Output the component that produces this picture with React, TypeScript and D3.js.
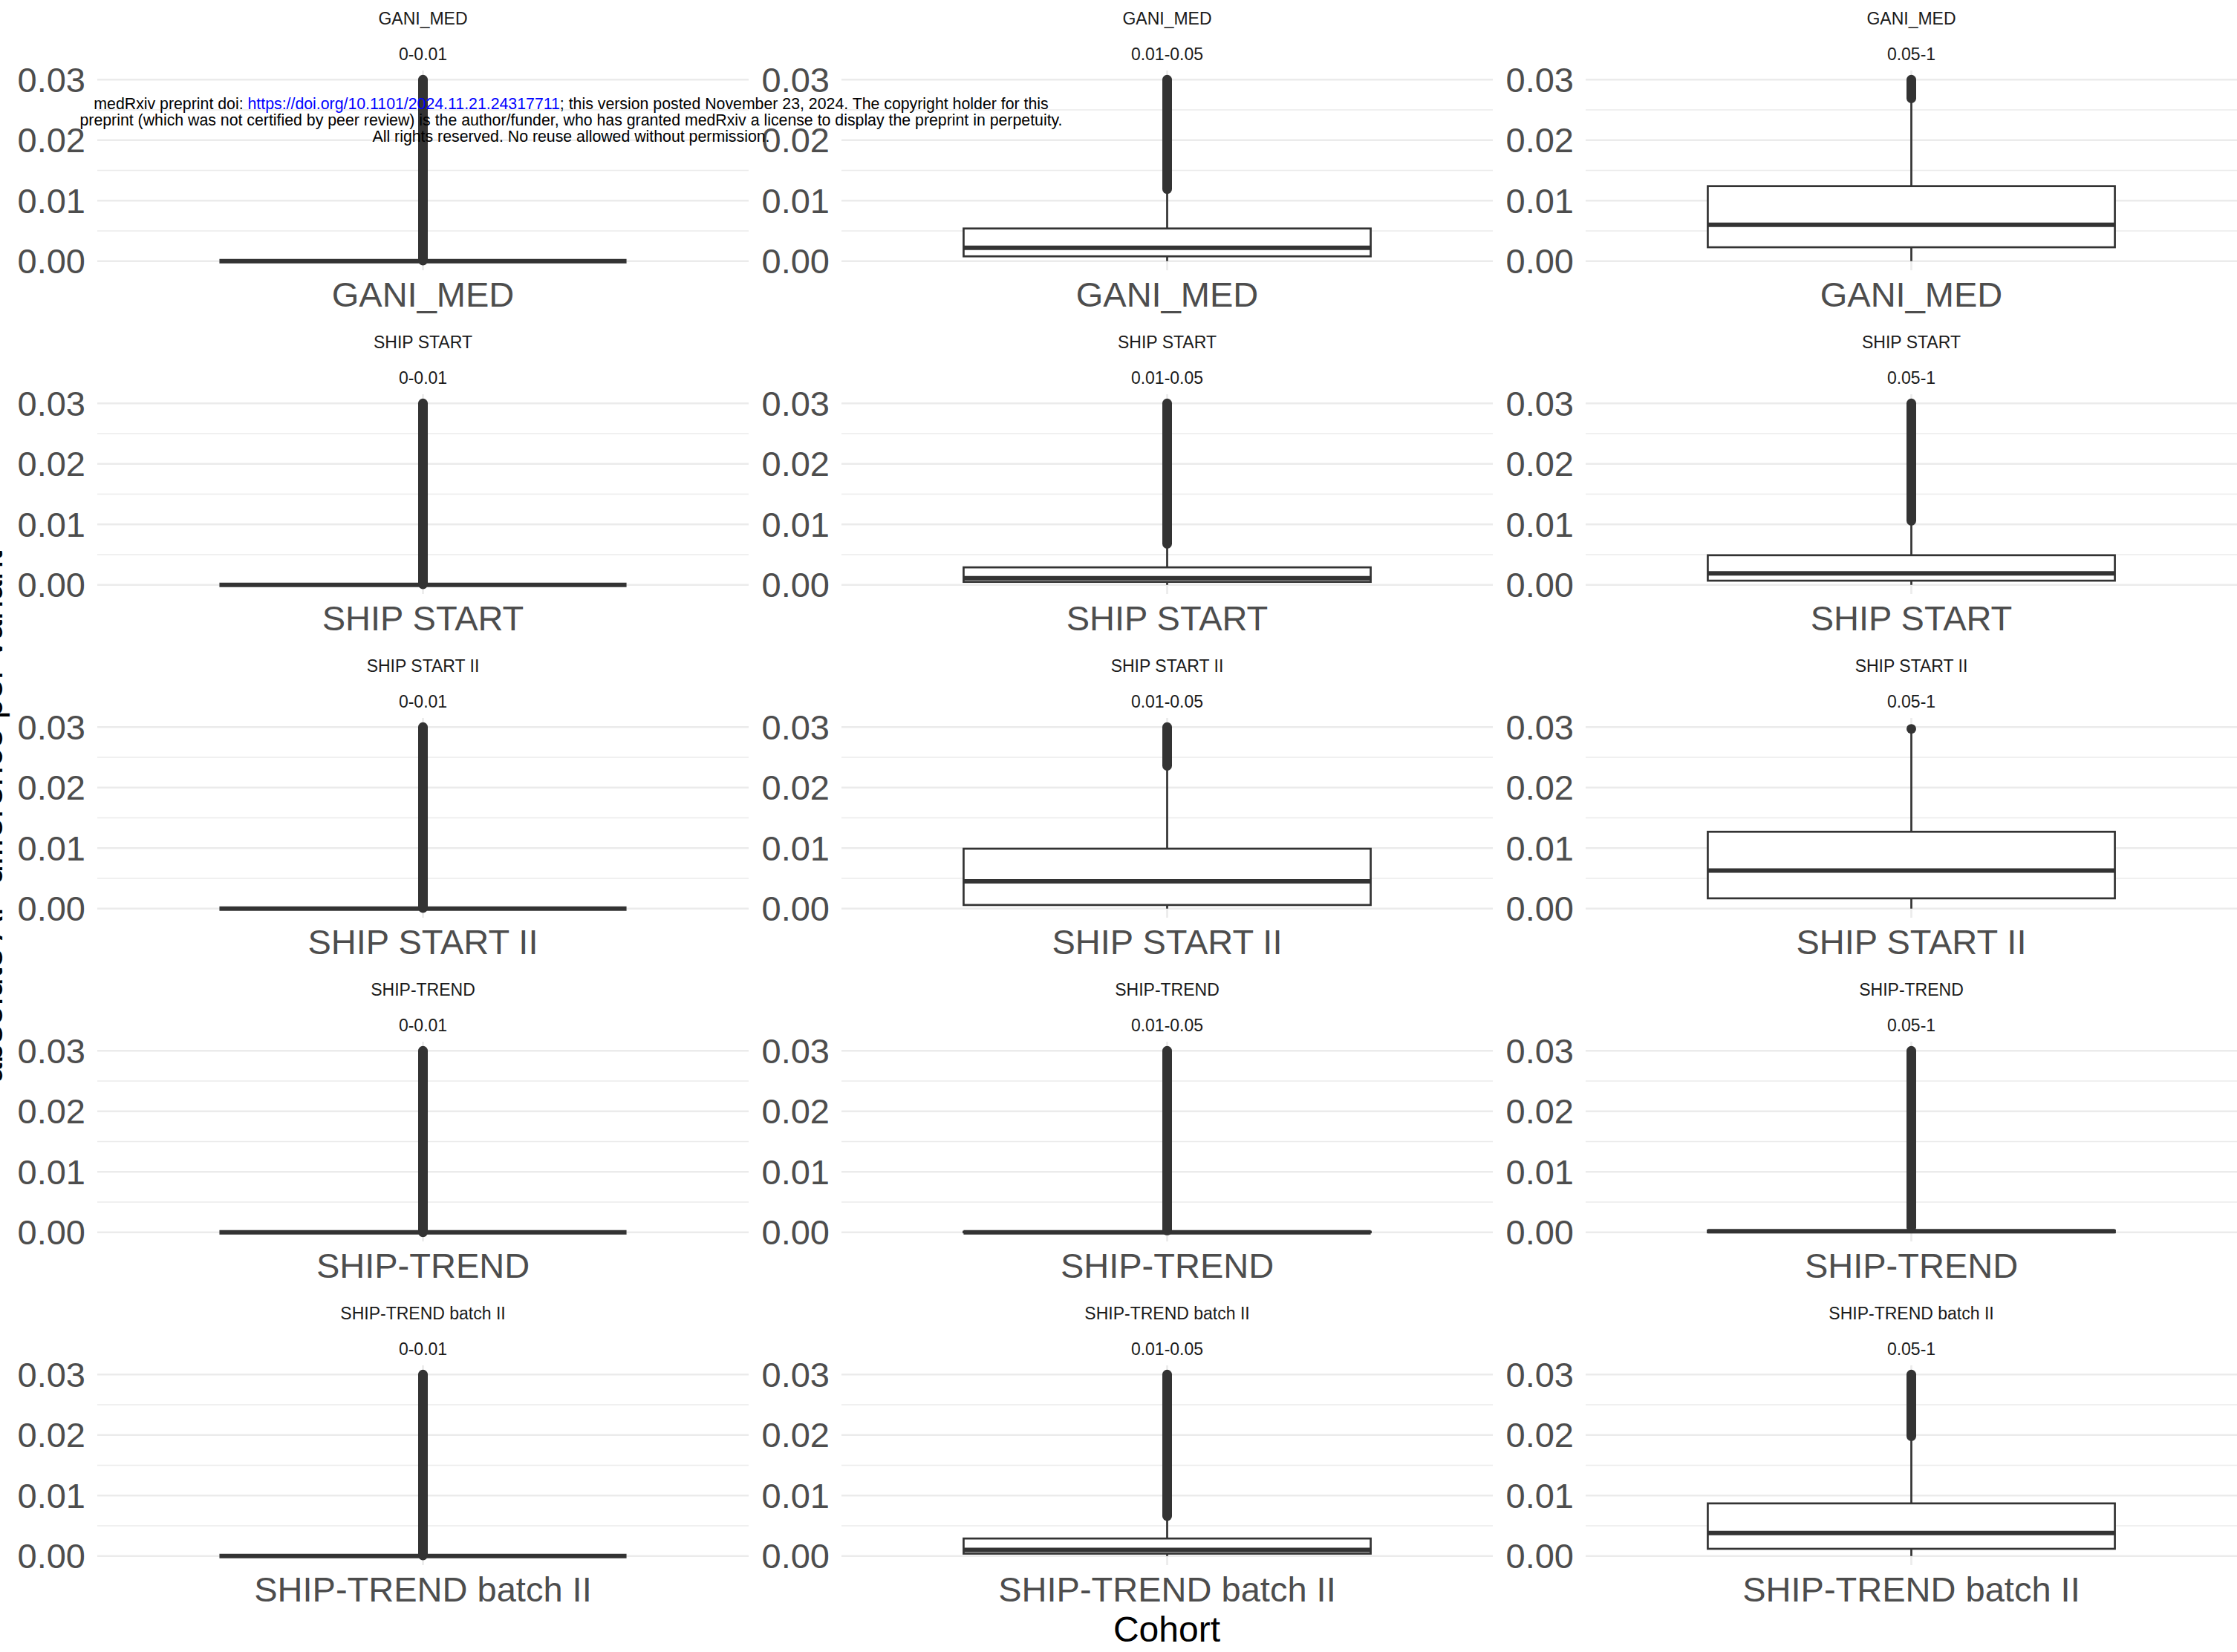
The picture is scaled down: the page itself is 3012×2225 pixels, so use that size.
import React from "react";
import { scaleLinear } from "d3";

// facet rows / columns
const cohorts = ["GANI_MED", "SHIP START", "SHIP START II", "SHIP-TREND", "SHIP-TREND batch II"];
const afBins = ["0-0.01", "0.01-0.05", "0.05-1"];

const yTicks = [0, 0.01, 0.02, 0.03];
const yMinorTicks = [0.005, 0.015, 0.025];
const yTickLabels = ["0.00", "0.01", "0.02", "0.03"];

// box stats per cohort (rows) x AF bin (cols)
const lowerWhisker = [
  [0, 0, 0],
  [0, 0, 0],
  [0, 0, 0],
  [0, 0, 0],
  [0, 0, 0]
];
const q1 = [
  [0, 0.0008, 0.0023],
  [0, 0.0005, 0.0007],
  [0, 0.0006, 0.0017],
  [0, 0, 0],
  [0, 0.0004, 0.0012]
];
const median = [
  [0, 0.0022, 0.006],
  [0, 0.0011, 0.0019],
  [0, 0.0045, 0.0063],
  [0, 0, 0.0002],
  [0, 0.001, 0.0038]
];
const q3 = [
  [0, 0.0054, 0.0124],
  [0, 0.0029, 0.0049],
  [0, 0.0099, 0.0127],
  [0, 0.0001, 0.0003],
  [0, 0.0029, 0.0087]
];
const upperWhisker = [
  [0, 0.0116, 0.0266],
  [0, 0.0066, 0.0104],
  [0, 0.0234, 0.0292],
  [0, 0.0002, 0.0007],
  [0, 0.0064, 0.0196]
];
// outliers are so dense they form a solid column: lowest and highest outlier
const outlierMin = [
  [0.0001, 0.0119, 0.0269],
  [0.0001, 0.0068, 0.0106],
  [0.0001, 0.0236, 0.0297],
  [0, 0.0003, 0.0008],
  [0.0001, 0.0066, 0.0198]
];
const outlierMax = [
  [0.03, 0.03, 0.03],
  [0.03, 0.03, 0.03],
  [0.03, 0.03, 0.0297],
  [0.03, 0.03, 0.03],
  [0.03, 0.03, 0.03]
];

const W = 3012;
const H = 2225;
const colLeft = [131, 1133, 2135];
const panelW = 877;
const rowStep = 436;
const panelTop0 = 95;
const panelH = 269;
const font = "'Liberation Sans', Arial, Helvetica, sans-serif";
const ink = "#333333";
const grid = "#EBEBEB";

function Panel({ r, c }: { r: number; c: number }) {
  const top = panelTop0 + r * rowStep;
  const left = colLeft[c];
  const y = scaleLinear().domain([-0.0015, 0.0315]).range([top + panelH, top]);
  // discrete x axis, one level, ggplot default expansion 0.6
  const x = scaleLinear().domain([0.4, 1.6]).range([left, left + panelW]);
  const cx = x(1);
  const bx0 = x(1 - 0.375);
  const bx1 = x(1 + 0.375);

  return (
    <g>
      {yMinorTicks.map(t => (
        <line key={"m" + t} x1={left} x2={left + panelW} y1={y(t)} y2={y(t)} stroke={grid} strokeWidth={1.4} />
      ))}
      {yTicks.map(t => (
        <line key={"g" + t} x1={left} x2={left + panelW} y1={y(t)} y2={y(t)} stroke={grid} strokeWidth={2.7} />
      ))}
      <line x1={cx} x2={cx} y1={top} y2={top + panelH} stroke={grid} strokeWidth={2.7} />

      {yTicks.map((t, i) => (
        <text key={"t" + t} x={left - 16} y={y(t)} textAnchor="end" dominantBaseline="central"
          fontSize={47} fill="#4D4D4D" fontFamily={font}>{yTickLabels[i]}</text>
      ))}

      {/* whiskers */}
      <line x1={cx} x2={cx} y1={y(q3[r][c])} y2={y(upperWhisker[r][c])} stroke={ink} strokeWidth={2.7} />
      <line x1={cx} x2={cx} y1={y(q1[r][c])} y2={y(lowerWhisker[r][c])} stroke={ink} strokeWidth={2.7} />
      {/* box */}
      <rect x={bx0} width={bx1 - bx0} y={y(q3[r][c])} height={y(q1[r][c]) - y(q3[r][c])}
        fill="#FFFFFF" stroke={ink} strokeWidth={2.7} />
      <line x1={bx0} x2={bx1} y1={y(median[r][c])} y2={y(median[r][c])} stroke={ink} strokeWidth={6} />
      {/* outliers */}
      <line x1={cx} x2={cx} y1={y(outlierMin[r][c])} y2={y(outlierMax[r][c])}
        stroke={ink} strokeWidth={13} strokeLinecap="round" />

      {/* strip */}
      <text x={left + panelW / 2} y={25 + r * rowStep} textAnchor="middle" dominantBaseline="central"
        fontSize={23} fill="#1A1A1A" fontFamily={font}>{cohorts[r]}</text>
      <text x={left + panelW / 2} y={73 + r * rowStep} textAnchor="middle" dominantBaseline="central"
        fontSize={23} fill="#1A1A1A" fontFamily={font}>{afBins[c]}</text>

      {/* x axis label */}
      <text x={cx} y={396 + r * rowStep} textAnchor="middle" dominantBaseline="central"
        fontSize={47} fill="#4D4D4D" fontFamily={font}>{cohorts[r]}</text>
    </g>
  );
}

export default function App() {
  const panels: { r: number; c: number }[] = [];
  cohorts.forEach((_, r) => afBins.forEach((__, c) => panels.push({ r, c })));

  return (
    <svg width={W} height={H} style={{ position: "absolute", left: 0, top: 0, background: "#fff" }}>
      <rect width={W} height={H} fill="#fff" />
      {panels.map(p => (
        <Panel key={p.r + "-" + p.c} r={p.r} c={p.c} />
      ))}

      <text x={1571} y={2194} textAnchor="middle" dominantBaseline="central" fontSize={48} fill="#000"
        fontFamily={font}>Cohort</text>
      <text transform="translate(3,1100) rotate(-90)" textAnchor="middle" fontSize={48} fill="#000"
        fontFamily={font}>absolute AF difference per variant</text>

      {/* medRxiv watermark */}
      <g fontFamily={font} fontSize={21.3} fill="#000" textAnchor="middle">
        <text x={769} y={147}>
          medRxiv preprint doi: <tspan fill="#0000FF">https://doi.org/10.1101/2024.11.21.24317711</tspan>; this version posted November 23, 2024. The copyright holder for this
        </text>
        <text x={769} y={169}>
          preprint (which was not certified by peer review) is the author/funder, who has granted medRxiv a license to display the preprint in perpetuity.
        </text>
        <text x={769} y={191}>All rights reserved. No reuse allowed without permission.</text>
      </g>
    </svg>
  );
}
